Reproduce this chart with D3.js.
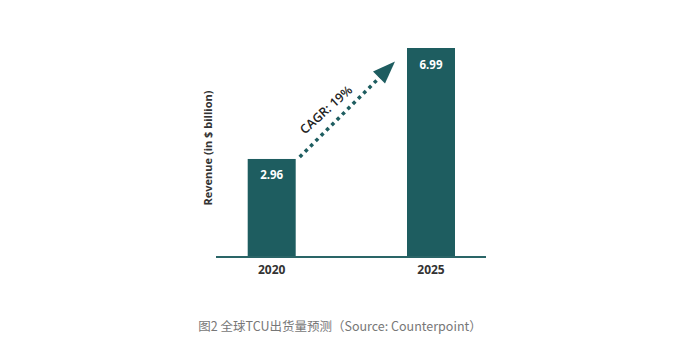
<!DOCTYPE html>
<html><head><meta charset="utf-8">
<script src="https://cdn.jsdelivr.net/npm/d3@7"></script>
<style>body{margin:0;background:#fff;}svg{display:block;}</style>
</head><body>
<svg id="c" width="683" height="364"></svg>
<script>
const categories = ["2020", "2025"];
const values = [2.96, 6.99];
const valueLabels = ["2.96", "6.99"];
const cagrLabel = "CAGR: 19%";
const yTitle = "Revenue (in $ billion)";
const caption = "图2 全球TCU出货量预测（Source: Counterpoint）";

const svg = d3.select("#c");
const teal = "#1e5d60";
const y = d3.scaleLinear().domain([-0.6, 7.8]).range([257, 25.7]);
const xc = d3.scalePoint().domain(categories).range([271.7, 431]);
const bw = 48;

svg.selectAll("rect.bar").data(values).enter().append("rect")
  .attr("x", (d,i) => xc(categories[i]) - bw/2)
  .attr("y", d => y(d))
  .attr("width", bw)
  .attr("height", d => y(y.domain()[0]) - y(d))
  .attr("fill", teal);

// axis line
svg.append("line").attr("x1", 216).attr("x2", 486).attr("y1", y(-0.6)).attr("y2", y(-0.6))
  .attr("stroke", "#2a6567").attr("stroke-width", 2);

// category labels
svg.selectAll("text.cat").data(categories).enter().append("text")
  .attr("x", d => xc(d)).attr("y", 274)
  .attr("text-anchor", "middle")
  .attr("font-family", "Open Sans, sans-serif").attr("font-weight", "bold")
  .attr("font-size", 12).attr("fill", "#333")
  .text(d => d);

// value labels
svg.selectAll("text.val").data(values).enter().append("text")
  .attr("x", (d,i) => xc(categories[i])).attr("y", d => y(d) + 20.5)
  .attr("text-anchor", "middle")
  .attr("font-family", "Open Sans, sans-serif").attr("font-weight", "bold")
  .attr("font-size", 11.5).attr("fill", "#fff")
  .text((d,i) => valueLabels[i]);

// y title
svg.append("text")
  .attr("transform", "translate(212,148) rotate(-90)")
  .attr("text-anchor", "middle")
  .attr("font-family", "Open Sans, sans-serif").attr("font-weight", "bold")
  .attr("font-size", 11).attr("fill", "#333")
  .text(yTitle);

// dotted arrow
const x0 = xc(categories[0]) + bw/2 + 4, y0 = y(values[0]) - 2;
const x1 = 386, y1 = 71;
svg.append("line").attr("x1", x0).attr("y1", y0).attr("x2", x1).attr("y2", y1)
  .attr("stroke", teal).attr("stroke-width", 3.5)
  .attr("stroke-dasharray", "3.5,4").attr("stroke-linecap", "butt");
svg.append("path")
  .attr("d", "M395,61.5 L373,71.5 L385,83.5 Z")
  .attr("fill", teal);

// CAGR label
svg.append("text")
  .attr("transform", "translate(329,113) rotate(-42)")
  .attr("text-anchor", "middle")
  .attr("font-family", "Open Sans, sans-serif").attr("font-weight", 600)
  .attr("font-size", 12.5).attr("fill", "#222")
  .text(cagrLabel);

// caption
svg.append("text")
  .attr("x", 340).attr("y", 331)
  .attr("text-anchor", "middle")
  .attr("font-family", "Noto Sans CJK SC, sans-serif")
  .attr("font-size", 12.5).attr("fill", "#777")
  .text(caption);
</script>
</body></html>
